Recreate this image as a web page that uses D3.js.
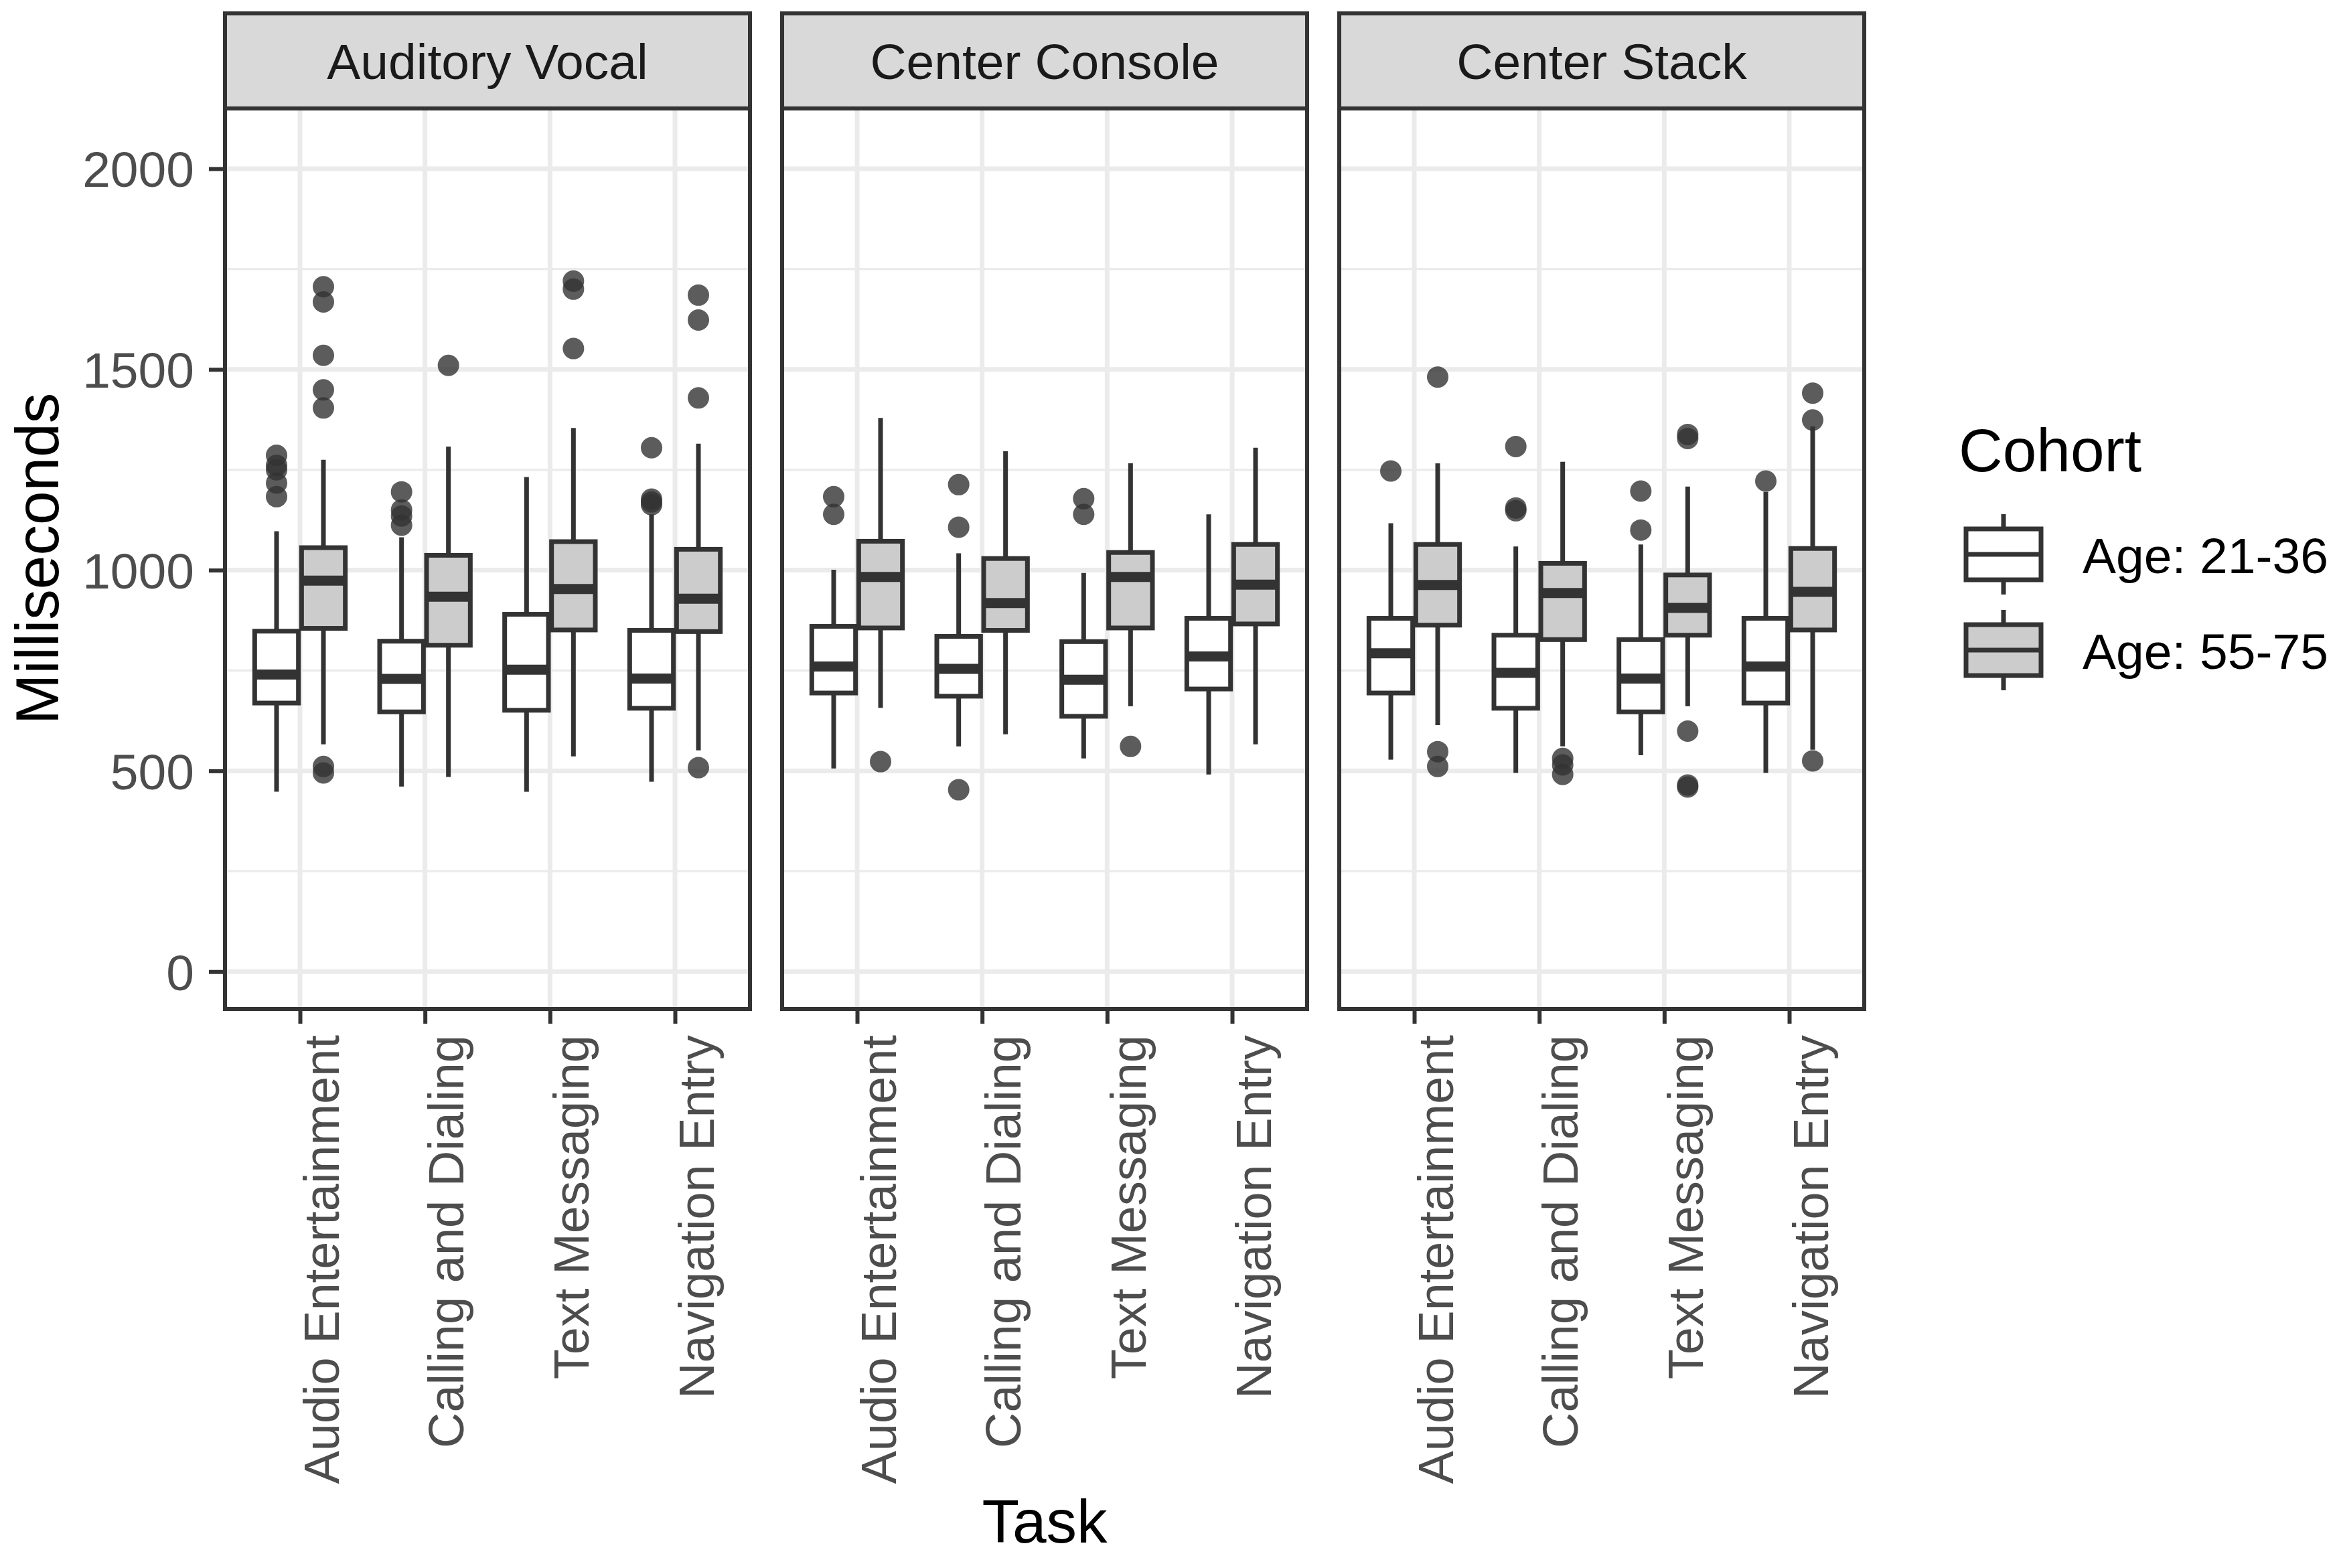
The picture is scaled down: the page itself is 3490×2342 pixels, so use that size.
<!DOCTYPE html>
<html>
<head>
<meta charset="utf-8">
<script src="https://cdn.jsdelivr.net/npm/d3@7/dist/d3.min.js"></script>
<style>
  html, body { margin: 0; padding: 0; background: #ffffff; }
  svg { display: block; }
</style>
</head>
<body>
<div id="chart"></div>
<script>
/* ---- Data ---- */
const PANELS = ['Auditory Vocal', 'Center Console', 'Center Stack'];
const TASKS = ['Audio Entertainment', 'Calling and Dialing', 'Text Messaging', 'Navigation Entry'];
const COHORTS = ['Age: 21-36', 'Age: 55-75'];
const Y_TICKS = [0, 500, 1000, 1500, 2000];
const Y_MINOR = [250, 750, 1250, 1750];

// five-number boxes per task: [lower whisker, q1, median, q3, upper whisker]
const AV_YOUNG = [[448, 669, 740, 848, 1097], [461, 647, 729, 823, 1082], [448, 651, 752, 890, 1232], [473, 656, 730, 850, 1139]];
const AV_OLD   = [[566, 855, 974, 1056, 1275], [485, 813, 934, 1037, 1308], [536, 851, 953, 1071, 1354], [551, 847, 929, 1052, 1315]];
const CC_YOUNG = [[506, 694, 760, 860, 1001], [561, 686, 754, 835, 1042], [531, 636, 727, 822, 993], [491, 704, 785, 880, 1139]];
const CC_OLD   = [[657, 856, 983, 1072, 1379], [591, 850, 918, 1029, 1296], [661, 856, 983, 1044, 1266], [566, 866, 964, 1064, 1305]];
const CS_YOUNG = [[528, 694, 793, 880, 1117], [495, 656, 744, 838, 1059], [539, 647, 730, 827, 1064], [495, 669, 760, 880, 1195]];
const CS_OLD   = [[614, 863, 963, 1064, 1266], [561, 827, 943, 1017, 1270], [661, 838, 906, 988, 1208], [553, 851, 946, 1054, 1358]];

// outliers per task
const AV_YOUNG_OUT = [[1183, 1217, 1250, 1261, 1286], [1112, 1135, 1150, 1195], [], [1163, 1170, 1177, 1305]];
const AV_OLD_OUT   = [[495, 511, 1404, 1449, 1535, 1668, 1706], [1510], [1552, 1700, 1720], [508, 1429, 1623, 1685]];
const CC_YOUNG_OUT = [[1139, 1183], [453, 1107, 1213], [1139, 1178], []];
const CC_OLD_OUT   = [[523], [], [561], []];
const CS_YOUNG_OUT = [[1247], [1148, 1155, 1308], [1100, 1197], [1222]];
const CS_OLD_OUT   = [[511, 548, 1481], [491, 515, 531], [460, 465, 599, 1328, 1338], [525, 1374, 1441]];

const BOXES = [[AV_YOUNG, AV_OLD], [CC_YOUNG, CC_OLD], [CS_YOUNG, CS_OLD]];
const OUTLIERS = [[AV_YOUNG_OUT, AV_OLD_OUT], [CC_YOUNG_OUT, CC_OLD_OUT], [CS_YOUNG_OUT, CS_OLD_OUT]];

(function () {
  'use strict';

  const W = 3490, H = 2342;
  const FONT = "'Liberation Sans', Arial, 'DejaVu Sans', sans-serif";
  const DARK = '#333333';
  const GRID = '#ebebeb';
  const FILLS = ['#ffffff', '#cccccc'];
  const LW = 7;

  const stripTop = 20, panelTop = 162, panelBottom = 1507;

  const svg = d3.select('#chart').append('svg')
    .attr('width', W).attr('height', H)
    .style('font-family', FONT);

  svg.append('rect').attr('width', W).attr('height', H).attr('fill', '#ffffff');

  /* ---- Scales ---- */
  const panelX = d3.scaleBand().domain(PANELS).range([336, 2784]).paddingInner(48 / 832);
  const pw = panelX.bandwidth();
  const x = d3.scalePoint().domain(TASKS).range([0, pw]).padding(0.6);
  const step = x.step();
  const y = d3.scaleLinear().domain([-93, 2150]).range([panelBottom, panelTop]);

  const halfBox = 0.175 * step;
  const dodge = [-0.1875 * step, 0.1875 * step];

  /* ---- Panels ---- */
  PANELS.forEach((name, p) => {
    const g = svg.append('g').attr('transform', `translate(${panelX(name)},0)`);

    g.append('rect')
      .attr('x', 0).attr('y', panelTop)
      .attr('width', pw).attr('height', panelBottom - panelTop)
      .attr('fill', '#ffffff');

    // grid
    g.selectAll('.minor').data(Y_MINOR).join('line')
      .attr('x1', 0).attr('x2', pw)
      .attr('y1', d => y(d)).attr('y2', d => y(d))
      .attr('stroke', GRID).attr('stroke-width', 3.5);
    g.selectAll('.major').data(Y_TICKS).join('line')
      .attr('x1', 0).attr('x2', pw)
      .attr('y1', d => y(d)).attr('y2', d => y(d))
      .attr('stroke', GRID).attr('stroke-width', 7);
    g.selectAll('.vgrid').data(TASKS).join('line')
      .attr('x1', d => x(d)).attr('x2', d => x(d))
      .attr('y1', panelTop).attr('y2', panelBottom)
      .attr('stroke', GRID).attr('stroke-width', 7);

    // boxplots
    COHORTS.forEach((c, k) => {
      const stats = BOXES[p][k];
      const outs = OUTLIERS[p][k];
      TASKS.forEach((t, i) => {
        const s = stats[i];
        const cx = x(t) + dodge[k];
        const bg = g.append('g');
        bg.append('line')
          .attr('x1', cx).attr('x2', cx).attr('y1', y(s[3])).attr('y2', y(s[4]))
          .attr('stroke', DARK).attr('stroke-width', LW);
        bg.append('line')
          .attr('x1', cx).attr('x2', cx).attr('y1', y(s[1])).attr('y2', y(s[0]))
          .attr('stroke', DARK).attr('stroke-width', LW);
        bg.append('rect')
          .attr('x', cx - halfBox).attr('width', 2 * halfBox)
          .attr('y', y(s[3])).attr('height', y(s[1]) - y(s[3]))
          .attr('fill', FILLS[k]).attr('stroke', DARK).attr('stroke-width', LW);
        bg.append('line')
          .attr('x1', cx - halfBox).attr('x2', cx + halfBox)
          .attr('y1', y(s[2])).attr('y2', y(s[2]))
          .attr('stroke', DARK).attr('stroke-width', 15);
        bg.selectAll('circle').data(outs[i]).join('circle')
          .attr('cx', cx).attr('cy', d => y(d)).attr('r', 16)
          .attr('fill', DARK).attr('fill-opacity', 0.8);
      });
    });

    // border
    g.append('rect')
      .attr('x', 0).attr('y', panelTop)
      .attr('width', pw).attr('height', panelBottom - panelTop)
      .attr('fill', 'none').attr('stroke', DARK).attr('stroke-width', 6);

    // strip
    g.append('rect')
      .attr('x', 0).attr('y', stripTop)
      .attr('width', pw).attr('height', panelTop - stripTop)
      .attr('fill', '#d9d9d9').attr('stroke', DARK).attr('stroke-width', 6);
    g.append('text')
      .attr('x', pw / 2).attr('y', 118)
      .attr('text-anchor', 'middle')
      .attr('font-size', 75).attr('fill', '#1a1a1a')
      .text(name);

    // x axis
    const xa = g.append('g')
      .attr('transform', `translate(0,${panelBottom})`)
      .call(d3.axisBottom(x).tickSize(22).tickSizeOuter(0));
    xa.select('.domain').remove();
    xa.selectAll('.tick line').attr('stroke', DARK).attr('stroke-width', 6);
    xa.selectAll('.tick text')
      .attr('transform', 'rotate(-90)')
      .attr('x', -39).attr('y', 57).attr('dy', 0)
      .attr('text-anchor', 'end')
      .attr('font-size', 74).attr('font-family', FONT)
      .attr('fill', '#4d4d4d');
  });

  /* ---- Y axis ---- */
  const ya = svg.append('g')
    .attr('transform', `translate(${panelX(PANELS[0])},0)`)
    .call(d3.axisLeft(y).tickValues(Y_TICKS).tickFormat(d3.format('d')).tickSize(24).tickPadding(22));
  ya.select('.domain').remove();
  ya.selectAll('.tick line').attr('stroke', DARK).attr('stroke-width', 6);
  ya.selectAll('.tick text')
    .attr('font-size', 75).attr('font-family', FONT)
    .attr('fill', '#4d4d4d').attr('dy', '0.36em');

  /* ---- Axis titles ---- */
  svg.append('text')
    .attr('transform', `translate(87,${(panelTop + panelBottom) / 2}) rotate(-90)`)
    .attr('text-anchor', 'middle')
    .attr('font-size', 91).attr('fill', '#000000')
    .text('Milliseconds');
  svg.append('text')
    .attr('x', (panelX(PANELS[0]) + panelX(PANELS[2]) + pw) / 2).attr('y', 2304)
    .attr('text-anchor', 'middle')
    .attr('font-size', 91).attr('fill', '#000000')
    .text('Task');

  /* ---- Legend ---- */
  const lg = svg.append('g');
  lg.append('text')
    .attr('x', 2925).attr('y', 704)
    .attr('font-size', 91).attr('fill', '#000000')
    .text('Cohort');

  const keyX = 2992, keyY = [828, 971];
  COHORTS.forEach((c, k) => {
    const cy = keyY[k];
    lg.append('line')
      .attr('x1', keyX).attr('x2', keyX).attr('y1', cy - 60).attr('y2', cy + 60)
      .attr('stroke', DARK).attr('stroke-width', LW);
    lg.append('rect')
      .attr('x', keyX - 56).attr('width', 112)
      .attr('y', cy - 38).attr('height', 76)
      .attr('fill', FILLS[k]).attr('stroke', DARK).attr('stroke-width', LW);
    lg.append('line')
      .attr('x1', keyX - 56).attr('x2', keyX + 56).attr('y1', cy).attr('y2', cy)
      .attr('stroke', DARK).attr('stroke-width', LW);
    lg.append('text')
      .attr('x', 3110).attr('y', cy + 28)
      .attr('font-size', 75).attr('fill', '#000000')
      .text(c);
  });
})();
</script>
</body>
</html>
